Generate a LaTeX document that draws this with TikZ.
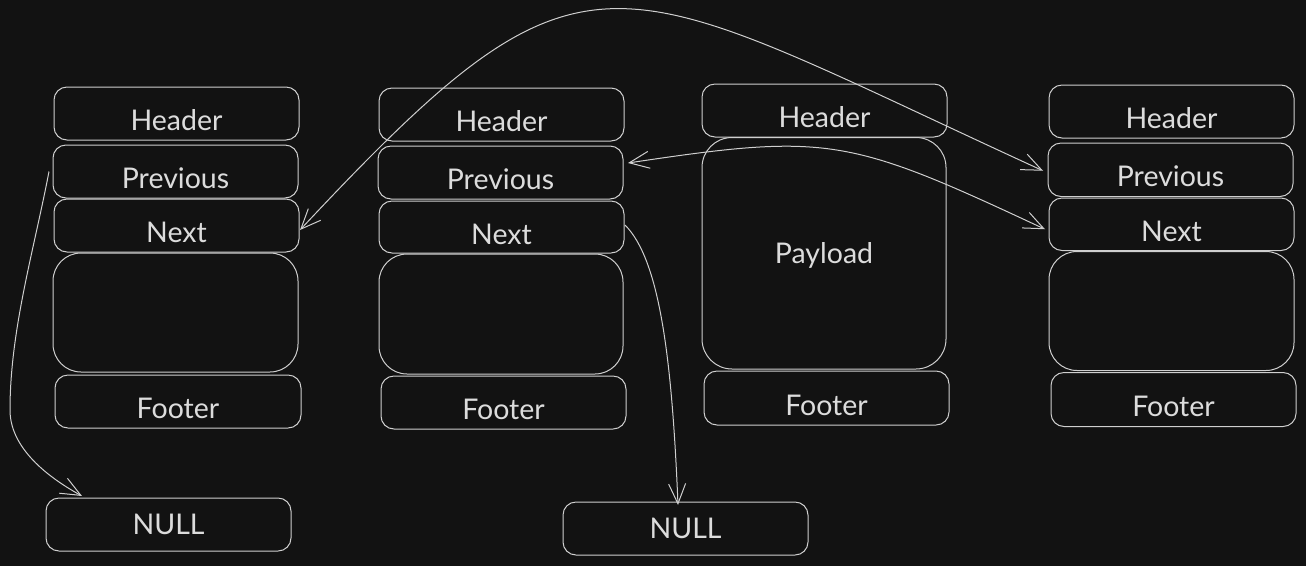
\documentclass[tikz,border=0pt]{standalone}
\usepackage{fontspec}
\setmainfont{Lato}
\usetikzlibrary{arrows.meta}
\definecolor{bgc}{HTML}{121212}
\definecolor{stk}{HTML}{CFCFCF}
\definecolor{txt}{HTML}{DCDCDC}
\tikzset{vbarb/.tip={Straight Barb[length=20pt,width=17pt]}}
\begin{document}
\begin{tikzpicture}[x=1pt,y=-1pt,
  bx/.style={draw=stk, line width=1pt, rounded corners=13pt, inner sep=0pt, outer sep=0pt,
    minimum width=245pt, minimum height=53pt, text=txt,
    font=\fontsize{28.5}{32}\selectfont, text height=34pt, text depth=0pt},
  ctr/.style={text height=20.4pt},
  big/.style={rounded corners=28pt},
  con/.style={draw=stk, line width=1pt, -vbarb},
  con2/.style={draw=stk, line width=1pt, vbarb-vbarb}]
\path[use as bounding box, fill=bgc] (0,0) rectangle (1306,566);

% column 1
\node[bx] (h1) at (176.5,113.5) {Header};
\node[bx] (p1) at (175.5,171.5) {Previous};
\node[bx] (n1) at (176.5,225.5) {Next};
\node[bx, big, minimum height=119pt] (b1) at (175.5,312.5) {};
\node[bx, minimum width=246pt] (f1) at (178,401.5) {Footer};
\node[bx, ctr] (null1) at (168.5,524.5) {NULL};

% column 2
\node[bx] (h2) at (501.5,114.5) {Header};
\node[bx] (p2) at (500.5,172.5) {Previous};
\node[bx, minimum height=52pt] (n2) at (501.5,227) {Next};
\node[bx, big, minimum width=244pt, minimum height=120pt] (b2) at (501,314) {};
\node[bx] (f2) at (503.5,402.5) {Footer};
\node[bx, ctr] (null2) at (685.5,528.5) {NULL};

% column 3
\node[bx] (h3) at (824.5,110.5) {Header};
\node[bx, ctr, rounded corners=30pt, minimum width=244pt, minimum height=231.5pt] (pl3) at (824,253.25) {Payload};
\node[bx, minimum height=54pt] (f3) at (826.5,398) {Footer};

% column 4
\node[bx] (h4) at (1171.5,111.5) {Header};
\node[bx, minimum height=53.5pt] (p4) at (1170.5,169.75) {Previous};
\node[bx, minimum height=52.5pt] (n4) at (1171.5,224.25) {Next};
\node[bx, big, minimum height=119pt] (b4) at (1171.5,311) {};
\node[bx, minimum height=54pt] (f4) at (1173.5,399.5) {Footer};

% connectors
\draw[con2] ([xshift=1pt,yshift=-4.5pt]n1.east)
  .. controls (590,-80) and (605,-30) .. ([xshift=-5pt,yshift=-1pt]p4.west);
\draw[con2] ([xshift=5pt,yshift=9.5pt]p2.east)
  .. controls (828,133) and (848,137) .. ([xshift=-4pt,yshift=-5pt]n4.west);
\coordinate (s1) at ([xshift=-4pt]p1.west);
\coordinate (m1) at (10,410);
\draw[con] (s1) .. controls (34,250) and (10,330) .. (m1)
  .. controls (10,445) and (42,474) .. ([xshift=36pt,yshift=2pt]null1.north west);
\draw[con] ([xshift=1pt,yshift=2pt]n2.east)
  .. controls (660,260) and (672,360) .. ([xshift=-7.5pt,yshift=-3pt]null2.north);
\end{tikzpicture}
\end{document}
